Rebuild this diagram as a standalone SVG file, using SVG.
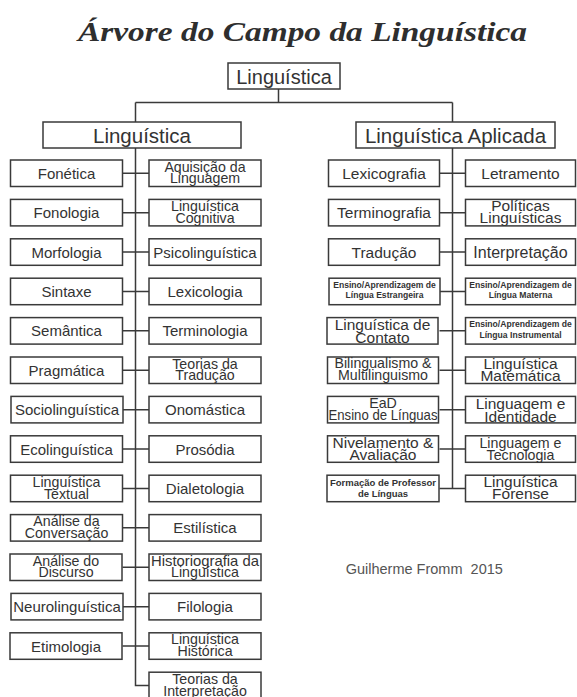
<svg xmlns="http://www.w3.org/2000/svg" width="577" height="697" viewBox="0 0 577 697">
<style>
.bg{fill:#fff}
.box{fill:#fff;stroke:#3a3a3a;stroke-width:1.5}
.conn{fill:none;stroke:#3a3a3a;stroke-width:1.5}
.t{font-family:"Liberation Sans",Arial,sans-serif;fill:#333;text-anchor:middle;font-size:15px}
.t2{font-family:"Liberation Sans",Arial,sans-serif;fill:#333;text-anchor:middle;font-size:14.2px}
.tr{font-family:"Liberation Sans",Arial,sans-serif;fill:#333;text-anchor:middle;font-size:15.5px}
.tb{font-family:"Liberation Sans",Arial,sans-serif;fill:#333;text-anchor:middle;font-size:8.6px;font-weight:bold}
.tb2{font-family:"Liberation Sans",Arial,sans-serif;fill:#333;text-anchor:middle;font-size:9.5px;font-weight:bold}
.h{font-family:"Liberation Sans",Arial,sans-serif;fill:#333;text-anchor:middle;font-size:20.5px}
.title{font-family:"Liberation Serif","Times New Roman",serif;font-weight:bold;font-style:italic;font-size:27px;fill:#2e2e2e;text-anchor:middle}
.foot{font-family:"Liberation Sans",Arial,sans-serif;fill:#555;font-size:14.5px}
</style>
<rect class="bg" x="0" y="0" width="577" height="697"/>
<text class="title" x="302.5" y="41" textLength="449" lengthAdjust="spacingAndGlyphs">Árvore do Campo da Linguística</text>

<g id="connectors">
<path class="conn" d="M278.5 89 V102.5 M135.5 102.5 H452.5 M135.5 102.5 V122 M452.5 102.5 V122"/>
<path class="conn" d="M135.5 148 V685.45 H149"/>
<path class="conn" d="M452.5 148 V488.45"/>
<path class="conn" d="M122.5 173.25 H149 M122.5 212.65 H149 M122.5 252.05 H149 M122.5 291.45 H149 M122.5 330.85 H149 M122.5 370.25 H149 M122.5 409.65 H149 M122.5 449.05 H149 M122.5 488.45 H149 M122.5 527.85 H149 M122.5 567.25 H149 M122.5 606.65 H149 M122.5 646.05 H149"/>
<path class="conn" d="M439.5 173.25 H465.5 M439.5 212.65 H465.5 M439.5 252.05 H465.5 M439.5 291.45 H465.5 M439.5 330.85 H465.5 M439.5 370.25 H465.5 M439.5 409.65 H465.5 M439.5 449.05 H465.5 M439.5 488.45 H465.5"/>
</g>

<g id="root"><rect class="box" x="228" y="63" width="112" height="26"/><text class="h" x="284" y="83.5" style="font-size:20px">Linguística</text></g>
<g id="linguistica"><rect class="box" x="43" y="122" width="198" height="26"/><text class="h" x="142" y="142.5">Linguística</text></g>
<g id="aplicada"><rect class="box" x="356" y="122" width="199" height="26"/><text class="h" x="455.5" y="142.5">Linguística Aplicada</text></g>

<!-- Left column, left boxes -->
<g id="fonetica"><rect class="box" x="10.5" y="160" width="112" height="26.5"/><text class="t" x="66.5" y="178.75">Fonética</text></g>
<g id="fonologia"><rect class="box" x="10.5" y="199.4" width="112" height="26.5"/><text class="t" x="66.5" y="218.15">Fonologia</text></g>
<g id="morfologia"><rect class="box" x="10.5" y="238.8" width="112" height="26.5"/><text class="t" x="66.5" y="257.55">Morfologia</text></g>
<g id="sintaxe"><rect class="box" x="10.5" y="278.2" width="112" height="26.5"/><text class="t" x="66.5" y="296.95">Sintaxe</text></g>
<g id="semantica"><rect class="box" x="10.5" y="317.6" width="112" height="26.5"/><text class="t" x="66.5" y="336.35">Semântica</text></g>
<g id="pragmatica"><rect class="box" x="10.5" y="357" width="112" height="26.5"/><text class="t" x="66.5" y="375.75">Pragmática</text></g>
<g id="sociolinguistica"><rect class="box" x="11" y="396.4" width="112" height="26.5"/><text class="t" x="67" y="415.15">Sociolinguística</text></g>
<g id="ecolinguistica"><rect class="box" x="10.5" y="435.8" width="112" height="26.5"/><text class="t" x="66.5" y="454.55">Ecolinguística</text></g>
<g id="ling-textual"><rect class="box" x="10.5" y="475.2" width="112" height="26.5"/><text class="t2" x="66.5" y="486.7">Linguística</text><text class="t2" x="66.5" y="498.5">Textual</text></g>
<g id="analise-conversacao"><rect class="box" x="10.5" y="514.6" width="112" height="26.5"/><text class="t2" x="66.5" y="526.1">Análise da</text><text class="t2" x="66.5" y="537.9">Conversação</text></g>
<g id="analise-discurso"><rect class="box" x="10" y="554" width="112" height="26.5"/><text class="t2" x="66" y="565.5">Análise do</text><text class="t2" x="66" y="577.3">Discurso</text></g>
<g id="neurolinguistica"><rect class="box" x="11" y="593.4" width="112" height="26.5"/><text class="t" x="67" y="612.15">Neurolinguística</text></g>
<g id="etimologia"><rect class="box" x="10" y="632.8" width="112" height="26.5"/><text class="t" x="66" y="651.55">Etimologia</text></g>

<!-- Left column, right boxes -->
<g id="aquisicao"><rect class="box" x="149" y="160" width="112" height="26.5"/><text class="t2" x="205" y="171.5">Aquisição da</text><text class="t2" x="205" y="183.3">Linguagem</text></g>
<g id="cognitiva"><rect class="box" x="149" y="199.4" width="112" height="26.5"/><text class="t2" x="205" y="210.9">Linguística</text><text class="t2" x="205" y="222.7">Cognitiva</text></g>
<g id="psicolinguistica"><rect class="box" x="149" y="238.8" width="112" height="26.5"/><text class="t" x="205" y="257.55">Psicolinguística</text></g>
<g id="lexicologia"><rect class="box" x="149" y="278.2" width="112" height="26.5"/><text class="t" x="205" y="296.95">Lexicologia</text></g>
<g id="terminologia"><rect class="box" x="149" y="317.6" width="112" height="26.5"/><text class="t" x="205" y="336.35">Terminologia</text></g>
<g id="teorias-traducao"><rect class="box" x="149" y="357" width="112" height="26.5"/><text class="t2" x="205" y="368.5">Teorias da</text><text class="t2" x="205" y="380.3">Tradução</text></g>
<g id="onomastica"><rect class="box" x="149" y="396.4" width="112" height="26.5"/><text class="t" x="205" y="415.15">Onomástica</text></g>
<g id="prosodia"><rect class="box" x="149" y="435.8" width="112" height="26.5"/><text class="t" x="205" y="454.55">Prosódia</text></g>
<g id="dialetologia"><rect class="box" x="149" y="475.2" width="112" height="26.5"/><text class="t" x="205" y="493.95">Dialetologia</text></g>
<g id="estilistica"><rect class="box" x="149" y="514.6" width="112" height="26.5"/><text class="t" x="205" y="533.35">Estilística</text></g>
<g id="historiografia"><rect class="box" x="149" y="554" width="112" height="26.5"/><text class="t2" x="205" y="565.5" textLength="108" lengthAdjust="spacingAndGlyphs">Historiografia da</text><text class="t2" x="205" y="577.3">Linguística</text></g>
<g id="filologia"><rect class="box" x="149" y="593.4" width="112" height="26.5"/><text class="t" x="205" y="612.15">Filologia</text></g>
<g id="ling-historica"><rect class="box" x="149" y="632.8" width="112" height="26.5"/><text class="t2" x="205" y="644.3">Linguística</text><text class="t2" x="205" y="656.1">Histórica</text></g>
<g id="teorias-interpretacao"><rect class="box" x="149" y="672.2" width="112" height="26.5"/><text class="t2" x="205" y="683.7">Teorias da</text><text class="t2" x="205" y="695.5">Interpretação</text></g>

<!-- Right column, left boxes -->
<g id="lexicografia"><rect class="box" x="328.5" y="160" width="111" height="26.5"/><text class="tr" x="384" y="178.75">Lexicografia</text></g>
<g id="terminografia"><rect class="box" x="328.5" y="199.4" width="111" height="26.5"/><text class="tr" x="384" y="218.15">Terminografia</text></g>
<g id="traducao"><rect class="box" x="328.5" y="238.8" width="111" height="26.5"/><text class="tr" x="384" y="257.55">Tradução</text></g>
<g id="ensino-estrangeira"><rect class="box" x="329" y="278.2" width="111" height="26.5"/><text class="tb" x="384.5" y="287.7">Ensino/Aprendizagem de</text><text class="tb" x="384.5" y="298.1">Língua Estrangeira</text></g>
<g id="contato"><rect class="box" x="327" y="317.6" width="111" height="26.5"/><text class="tr" x="382.5" y="330.3">Linguística de</text><text class="tr" x="382.5" y="342.5">Contato</text></g>
<g id="bilingualismo"><rect class="box" x="327.5" y="357" width="111" height="26.5"/><text class="t2" x="383" y="368.2">Bilingualismo &amp;</text><text class="t2" x="383" y="380.4">Multilinguismo</text></g>
<g id="ead"><rect class="box" x="327.5" y="396.4" width="111" height="26.5"/><text class="t2" x="383" y="408">EaD</text><text class="t2" x="383" y="420.2" textLength="109" lengthAdjust="spacingAndGlyphs">Ensino de Línguas</text></g>
<g id="nivelamento"><rect class="box" x="327.5" y="435.8" width="111" height="26.5"/><text class="tr" x="383" y="448">Nivelamento &amp;</text><text class="tr" x="383" y="460.2">Avaliação</text></g>
<g id="formacao"><rect class="box" x="327" y="475.2" width="112" height="26.5"/><text class="tb2" x="383" y="486">Formação de Professor</text><text class="tb2" x="383" y="496.9">de Línguas</text></g>

<!-- Right column, right boxes -->
<g id="letramento"><rect class="box" x="465.5" y="160" width="110" height="26.5"/><text class="tr" x="520.5" y="179">Letramento</text></g>
<g id="politicas"><rect class="box" x="465.5" y="199.4" width="110" height="26.5"/><text class="tr" x="520.5" y="211.3">Políticas</text><text class="tr" x="520.5" y="223.3">Linguísticas</text></g>
<g id="interpretacao"><rect class="box" x="465.5" y="238.8" width="110" height="26.5"/><text class="tr" x="520.5" y="257.8" style="font-size:16px">Interpretação</text></g>
<g id="ensino-materna"><rect class="box" x="465.5" y="278.2" width="110" height="26.5"/><text class="tb" x="520.5" y="287.7">Ensino/Aprendizagem de</text><text class="tb" x="520.5" y="298.1">Língua Materna</text></g>
<g id="ensino-instrumental"><rect class="box" x="465.5" y="317.6" width="110" height="26.5"/><text class="tb" x="520.5" y="327.1">Ensino/Aprendizagem de</text><text class="tb" x="520.5" y="337.5">Língua Instrumental</text></g>
<g id="matematica"><rect class="box" x="465.5" y="357" width="110" height="26.5"/><text class="tr" x="520.5" y="368.5">Linguística</text><text class="tr" x="520.5" y="380.7">Matemática</text></g>
<g id="identidade"><rect class="box" x="465.5" y="396.4" width="110" height="26.5"/><text class="tr" x="520.5" y="409.3">Linguagem e</text><text class="tr" x="520.5" y="421.5">Identidade</text></g>
<g id="tecnologia"><rect class="box" x="465.5" y="435.8" width="110" height="26.5"/><text class="t2" x="520.5" y="448.3">Linguagem e</text><text class="t2" x="520.5" y="460.3">Tecnologia</text></g>
<g id="forense"><rect class="box" x="465.5" y="475.2" width="110" height="26.5"/><text class="tr" x="520.5" y="487.1">Linguística</text><text class="tr" x="520.5" y="499.3">Forense</text></g>

<text class="foot" x="345.7" y="574" xml:space="preserve">Guilherme Fromm  2015</text>
</svg>
